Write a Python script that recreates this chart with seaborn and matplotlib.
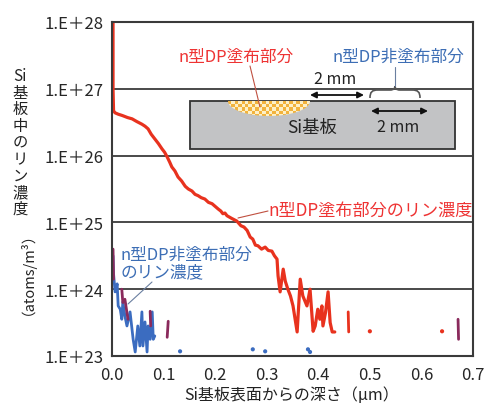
import numpy as np
import matplotlib
matplotlib.use("Agg")
import matplotlib.pyplot as plt
from matplotlib.patches import Rectangle, Ellipse, PathPatch
from matplotlib.path import Path
import seaborn as sns

# depth (um) and log10 concentration
red_x = [0.002, 0.002, 0.002, 0.003, 0.006, 0.012, 0.020, 0.030, 0.039, 0.048, 0.058, 0.064,
         0.070, 0.076, 0.083, 0.090, 0.097, 0.102, 0.107, 0.112, 0.116, 0.122, 0.128, 0.135,
         0.142, 0.148, 0.155, 0.161, 0.167, 0.173, 0.180, 0.187, 0.194, 0.200, 0.206, 0.211,
         0.215, 0.219, 0.223, 0.232, 0.242, 0.250, 0.256, 0.262, 0.268, 0.273, 0.278, 0.283,
         0.290, 0.297, 0.303, 0.310, 0.315, 0.320, 0.322, 0.326, 0.332, 0.336, 0.341, 0.346,
         0.351, 0.359, 0.365, 0.370, 0.378, 0.384, 0.390, 0.394, 0.399, 0.403, 0.407, 0.409,
         0.414, 0.419, 0.423, 0.427, 0.432]
red_log = [28.0, 27.45, 27.0, 26.67, 26.64, 26.62, 26.60, 26.57, 26.55, 26.51, 26.47, 26.44,
           26.40, 26.32, 26.25, 26.18, 26.10, 26.05, 25.98, 25.90, 25.83, 25.77, 25.68, 25.62,
           25.54, 25.50, 25.47, 25.42, 25.40, 25.37, 25.35, 25.30, 25.28, 25.24, 25.20, 25.17,
           25.13, 25.14, 25.10, 25.06, 25.02, 24.95, 24.93, 24.88, 24.78, 24.75, 24.66, 24.65,
           24.60, 24.63, 24.58, 24.57, 24.50, 24.45, 24.20, 23.96, 24.30, 24.12, 24.00, 23.90,
           23.75, 23.36, 24.15, 23.90, 23.75, 24.00, 23.37, 23.45, 23.70, 23.55, 23.75, 23.45,
           23.65, 23.96, 23.50, 23.36, 23.36]

blue_x = [0.002, 0.003, 0.006, 0.010, 0.012, 0.016, 0.019, 0.021, 0.025, 0.029, 0.035, 0.041,
          0.045, 0.050, 0.054, 0.058, 0.060, 0.064, 0.068, 0.070, 0.074, 0.078, 0.080, 0.083]
blue_log = [24.50, 24.23, 23.96, 24.08, 23.75, 23.70, 23.55, 23.81, 23.60, 23.45, 23.66, 23.25,
            23.06, 23.45, 23.15, 23.66, 23.15, 23.51, 23.06, 23.45, 23.25, 23.66, 23.25, 23.30]

purple_segs = [([0.002, 0.003], [24.60, 24.15]),
               ([0.019, 0.021], [24.00, 23.80]),
               ([0.025, 0.031], [23.85, 23.55]),
               ([0.074, 0.075], [23.67, 23.45]),
               ([0.109, 0.107], [23.52, 23.28]),
               ([0.671, 0.672], [23.55, 23.25])]
red_segs = [([0.458, 0.459], [23.66, 23.36])]
red_dots_x = [0.500, 0.640]
red_dots_log = [23.37, 23.37]
blue_dots_x = [0.132, 0.273, 0.297, 0.380, 0.384]
blue_dots_log = [23.07, 23.10, 23.07, 23.10, 23.06]

x_ticks = [0.0, 0.1, 0.2, 0.3, 0.4, 0.5, 0.6, 0.7]
y_exps = [23, 24, 25, 26, 27, 28]

RED = "#e8321e"
BLUE = "#3b6cc0"
PURPLE = "#8a2a5c"
LBL_RED = "#ee3333"
LBL_BLUE = "#3d6eb5"

sns.set_style("white")
plt.rcParams["font.family"] = ["Noto Sans CJK JP", "DejaVu Sans"]

W, H = 484, 410
fig = plt.figure(figsize=(W / 100, H / 100), dpi=100)
ax = fig.add_axes([112 / W, 1 - 357 / H, (473 - 112) / W, (357 - 23) / H])

pw = lambda v: [10 ** e for e in v]

sns.lineplot(x=blue_x, y=pw(blue_log), sort=False, estimator=None, color=BLUE, lw=2.0, ax=ax)
for sx, sy in purple_segs:
    sns.lineplot(x=sx, y=pw(sy), sort=False, estimator=None, color=PURPLE, lw=2.0, ax=ax)
sns.lineplot(x=red_x, y=pw(red_log), sort=False, estimator=None, color=RED, lw=2.3, ax=ax)
for sx, sy in red_segs:
    sns.lineplot(x=sx, y=pw(sy), sort=False, estimator=None, color=RED, lw=2.0, ax=ax)
sns.scatterplot(x=red_dots_x, y=pw(red_dots_log), color=RED, s=9, edgecolor="none", ax=ax)
sns.scatterplot(x=blue_dots_x, y=pw(blue_dots_log), color=BLUE, s=9, edgecolor="none", ax=ax)

ax.set_yscale("log")
ax.set_xlim(0, 0.7)
ax.set_ylim(1e23, 1e28)
ax.set_xticks(x_ticks)
ax.set_xticklabels([f"{t:.1f}" for t in x_ticks], fontsize=12)
ax.set_yticks([10.0 ** e for e in y_exps])
ax.set_yticklabels([f"1.E＋{e}" for e in y_exps], fontsize=12)
ax.yaxis.set_minor_locator(matplotlib.ticker.NullLocator())
ax.tick_params(axis="x", direction="in", length=4, width=1, color="#333333", pad=7)
ax.tick_params(axis="y", length=0, pad=6)
for e in y_exps[1:-1]:
    ax.axhline(10.0 ** e, color="#3a3a3a", lw=1.3, zorder=1)
for sp in ax.spines.values():
    sp.set_color("#3a3a3a")
    sp.set_linewidth(1.5)
ax.set_xlabel("")
ax.set_ylabel("")

# overlay in pixel coordinates for the sketch and the labels
ov = fig.add_axes([0, 0, 1, 1], zorder=5)
ov.patch.set_alpha(0)

ov.text(20, 68, "Si\n基\n板\n中\nの\nリ\nン\n濃\n度", ha="center", va="top",
        fontsize=11, linespacing=0.97, color="#222222")
ov.text(20, 266, "（atoms/m³）", ha="center", va="center", rotation=90,
        fontsize=10.5, color="#222222")
ov.text(292, 396, "Si基板表面からの深さ（μm）", ha="center", va="center",
        fontsize=11.5, color="#222222")

# substrate sketch
ov.add_patch(Rectangle((190, 102), 265, 48, facecolor="#c2c3c5", edgecolor="#333333", lw=1.3))
checker = np.indices((5, 24)).sum(axis=0) % 2
img = ov.imshow(checker, cmap=matplotlib.colors.ListedColormap(["#f2b33d", "#fdf0c8"]),
                extent=(228, 310, 118, 102), interpolation="nearest", zorder=3, aspect="auto")
clip = Ellipse((269, 102), 82, 30, transform=ov.transData)
img.set_clip_path(clip)
ov.text(312, 128, "Si基板", ha="center", va="center", fontsize=12.5, color="#222222", zorder=4)

arrow = dict(arrowstyle="<|-|>", color="#111111", lw=1.3, mutation_scale=9, shrinkA=0, shrinkB=0)
ov.annotate("", xy=(310, 96), xytext=(364, 96), arrowprops=arrow)
ov.text(335, 80, "2 mm", ha="center", va="center", fontsize=11.5, color="#222222")
ov.annotate("", xy=(371, 112), xytext=(428, 112), arrowprops=arrow)
ov.text(398, 127, "2 mm", ha="center", va="center", fontsize=11.5, color="#222222", zorder=4)

verts = [(370, 99),
         (370, 93), (372, 91), (378, 91),
         (390, 91),
         (394, 91), (395, 89), (395, 87),
         (395, 89), (396, 91), (400, 91),
         (412, 91),
         (418, 91), (420, 93), (420, 99)]
codes = [Path.MOVETO,
         Path.CURVE4, Path.CURVE4, Path.CURVE4,
         Path.LINETO,
         Path.CURVE4, Path.CURVE4, Path.CURVE4,
         Path.CURVE4, Path.CURVE4, Path.CURVE4,
         Path.LINETO,
         Path.CURVE4, Path.CURVE4, Path.CURVE4]
ov.add_patch(PathPatch(Path(verts, codes), facecolor="none", edgecolor="#555555", lw=1.2))
ov.plot([395, 395], [87, 68], color="#6a7fa0", lw=0.8)

ov.text(236, 57, "n型DP塗布部分", ha="center", va="center", fontsize=12, color=LBL_RED)
ov.plot([250, 260], [67, 108], color="#c05040", lw=0.8, zorder=4)
ov.text(398, 57, "n型DP非塗布部分", ha="center", va="center", fontsize=12, color=LBL_BLUE)

ov.text(268, 211, "n型DP塗布部分のリン濃度", ha="left", va="center", fontsize=12.3, color=LBL_RED)
ov.plot([268, 238], [212, 219], color="#c05040", lw=0.8)
ov.text(121, 264, "n型DP非塗布部分\nのリン濃度", ha="left", va="center", fontsize=12,
        linespacing=1.05, color=LBL_BLUE)
ov.plot([152, 128], [283, 305], color="#6a7fa0", lw=0.8)

ov.set_xlim(0, W)
ov.set_ylim(H, 0)
ov.axis("off")

fig.savefig("out.png", dpi=100)
